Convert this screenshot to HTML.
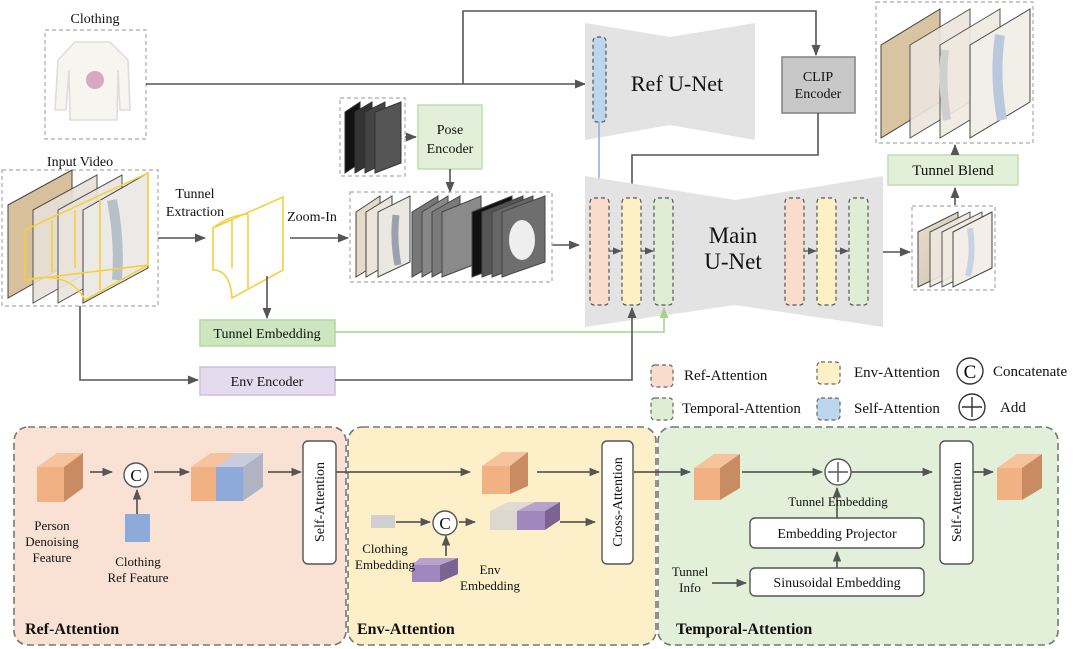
<!DOCTYPE html>
<html><head><meta charset="utf-8"><style>
html,body{margin:0;padding:0;background:#fff;width:1080px;height:649px;overflow:hidden}
svg{display:block;font-family:"Liberation Serif",serif}
</style></head><body>
<svg width="1080" height="649" viewBox="0 0 1080 649" xmlns="http://www.w3.org/2000/svg">
<defs>
<marker id="a" viewBox="0 0 10 10" refX="9" refY="5" markerWidth="7" markerHeight="7" orient="auto"><path d="M0,1 L10,5 L0,9 z" fill="#555"/></marker>
<marker id="ab" viewBox="0 0 10 10" refX="9" refY="5" markerWidth="7" markerHeight="7" orient="auto"><path d="M0,1 L10,5 L0,9 z" fill="#8fb0e0"/></marker>
<marker id="ag" viewBox="0 0 10 10" refX="9" refY="5" markerWidth="7" markerHeight="7" orient="auto"><path d="M0,1 L10,5 L0,9 z" fill="#a6d38a"/></marker>
<linearGradient id="ph" x1="0" y1="0" x2="1" y2="1"><stop offset="0" stop-color="#e8dccb"/><stop offset="1" stop-color="#cfc3b3"/></linearGradient>
</defs>
<g stroke="#555" stroke-width="1.6" fill="none">
<rect x="45" y="30" width="101" height="109" stroke="#aaa" stroke-dasharray="4,3" stroke-width="1.2"/>
<path d="M75,42 L110,42 L128,60 L130,110 L120,110 L118,70 L117,120 L70,120 L69,70 L66,110 L55,110 L58,60 Z" fill="#f7f5f0" stroke="#ddd"/>
<circle cx="95" cy="80" r="9" fill="#d9a7c0" stroke="none"/>
<polyline points="146,84 585,84" marker-end="url(#a)"/>
<polyline points="463,84 463,11 816,11 816,55" marker-end="url(#a)"/>
<path d="M585,23 L670,37 L755,23 L755,140 L670,125 L585,140 Z" fill="#e3e3e3" stroke="none"/>
<rect x="593" y="37" width="13" height="85" rx="4" fill="#bcd6ee" stroke-dasharray="4,3" stroke-width="1.2"/>
<line x1="599" y1="122" x2="599" y2="196" stroke="#8fb0e0" marker-end="url(#ab)"/>
<rect x="782" y="57" width="73" height="56" fill="#c8c8c8" stroke="#888"/>
<polyline points="818,113 818,155 632,155 632,196" marker-end="url(#a)"/>
<path d="M585,176 L735,200 L883,176 L883,327 L735,305 L585,327 Z" fill="#e3e3e3" stroke="none"/>
<g stroke-dasharray="4,3" stroke-width="1.2">
<rect x="590" y="198" width="19" height="107" rx="4" fill="#f9dccb"/>
<rect x="622" y="198" width="19" height="107" rx="4" fill="#fdf0c4"/>
<rect x="654" y="198" width="19" height="107" rx="4" fill="#deedd3"/>
<rect x="785" y="198" width="19" height="107" rx="4" fill="#f9dccb"/>
<rect x="817" y="198" width="19" height="107" rx="4" fill="#fdf0c4"/>
<rect x="849" y="198" width="19" height="107" rx="4" fill="#deedd3"/>
</g>
<line x1="609" y1="251" x2="621" y2="251" marker-end="url(#a)" stroke-width="1.3"/>
<line x1="641" y1="251" x2="653" y2="251" marker-end="url(#a)" stroke-width="1.3"/>
<line x1="804" y1="251" x2="816" y2="251" marker-end="url(#a)" stroke-width="1.3"/>
<line x1="836" y1="251" x2="848" y2="251" marker-end="url(#a)" stroke-width="1.3"/>
<line x1="552" y1="245" x2="579" y2="245" marker-end="url(#a)"/>
<line x1="883" y1="252" x2="910" y2="252" marker-end="url(#a)"/>
<rect x="912" y="206" width="83" height="84" stroke="#aaa" stroke-dasharray="4,3" stroke-width="1.2"/>
<g stroke="#444" stroke-width="1">
<path d="M918,232 L958,212 L958,268 L918,287Z" fill="url(#ph)"/>
<path d="M930,232 L970,212 L970,268 L930,287Z" fill="#eee8df" opacity=".9"/>
<path d="M942,232 L982,212 L982,268 L942,287Z" fill="#f0ebe3" opacity=".9"/>
<path d="M953,232 L992,212 L992,268 L953,287Z" fill="#f3efe8"/>
</g>
<path d="M970,228 q4,25 -2,48" stroke="#c8d3e0" stroke-width="6"/>
<line x1="955" y1="205" x2="955" y2="188" marker-end="url(#a)"/>
<rect x="888" y="155" width="130" height="30" fill="#e2f0d9" stroke="#c3e0b0"/>
<line x1="955" y1="155" x2="955" y2="145" marker-end="url(#a)"/>
<rect x="876" y="2" width="157" height="141" stroke="#aaa" stroke-dasharray="4,3" stroke-width="1.2"/>
<g stroke="#444" stroke-width="1">
<path d="M881,45 L940,9 L940,102 L881,138Z" fill="#d9c4a2"/>
<path d="M910,45 L970,9 L970,102 L910,138Z" fill="#ece6dc" opacity=".9"/>
<path d="M940,45 L1000,9 L1000,102 L940,138Z" fill="#efe9e0" opacity=".9"/>
<path d="M970,45 L1030,9 L1030,102 L970,138Z" fill="#f2eee8"/>
</g>
<path d="M1000,35 q-6,40 2,85" stroke="#b9c8dc" stroke-width="10"/>
<path d="M945,50 q-4,30 2,70" stroke="#cfcfcf" stroke-width="8"/>
<rect x="2" y="170" width="156" height="136" stroke="#aaa" stroke-dasharray="4,3" stroke-width="1.2"/>
<g stroke="#444" stroke-width="1">
<path d="M8,205 L72,170 L72,262 L8,298Z" fill="#d8c09c"/>
<path d="M33,210 L97,175 L97,267 L33,303Z" fill="#e7e1d8" opacity=".9"/>
<path d="M58,210 L122,175 L122,267 L58,303Z" fill="#e9e4dc" opacity=".9"/>
<path d="M83,210 L148,173 L148,268 L83,303Z" fill="#eceae6"/>
</g>
<path d="M112,200 q8,40 5,80" stroke="#b7bfc9" stroke-width="10"/>
<g stroke="#f4d03f" stroke-width="1.6">
<path d="M25,230 L148,173 L148,265 L25,280Z M52,220 L52,272 M75,210 L75,268 M100,200 L100,290 M25,280 Q70,270 85,300 L148,265"/>
</g>
<line x1="158" y1="238" x2="205" y2="238" marker-end="url(#a)"/>
<g stroke="#f4d03f" stroke-width="1.6">
<path d="M213,228 L283,197 L283,270 L232,298 Q230,270 213,270Z M232,220 L232,268 M248,214 L248,290 M213,228 Q230,215 248,214"/>
</g>
<line x1="290" y1="238" x2="348" y2="238" marker-end="url(#a)"/>
<line x1="267" y1="276" x2="267" y2="318" marker-end="url(#a)"/>
<rect x="200" y="320" width="135" height="26" fill="#cde6bf" stroke="#b6d9a2"/>
<polyline points="335,332 664,332 664,308" stroke="#a6d38a" marker-end="url(#ag)"/>
<polyline points="80,306 80,380 198,380" marker-end="url(#a)"/>
<rect x="200" y="367" width="135" height="28" fill="#e4dcee" stroke="#cfc3e0"/>
<polyline points="335,380 632,380 632,308" marker-end="url(#a)"/>
<rect x="340" y="98" width="65" height="78" stroke="#aaa" stroke-dasharray="4,3" stroke-width="1.2"/>
<g stroke="#333" stroke-width="1">
<path d="M345,112 L360,102 L360,163 L345,173Z" fill="#111"/>
<path d="M355,112 L372,102 L372,163 L355,173Z" fill="#333"/>
<path d="M365,112 L385,102 L385,163 L365,173Z" fill="#444"/>
<path d="M375,112 L401,102 L401,163 L375,173Z" fill="#555"/>
</g>
<line x1="405" y1="137" x2="416" y2="137" marker-end="url(#a)"/>
<rect x="418" y="105" width="64" height="64" fill="#e2f0d9" stroke="#c3e0b0"/>
<line x1="450" y1="169" x2="450" y2="192" marker-end="url(#a)"/>
<rect x="350" y="192" width="202" height="90" stroke="#aaa" stroke-dasharray="4,3" stroke-width="1.2"/>
<g stroke="#444" stroke-width="1">
<path d="M356,212 L380,196 L380,262 L356,277Z" fill="#e5dac8"/>
<path d="M366,212 L392,196 L392,262 L366,277Z" fill="#ebe5dc"/>
<path d="M378,212 L410,196 L410,262 L378,277Z" fill="#ebe7e1"/>
<path d="M412,212 L438,196 L438,262 L412,277Z" fill="#777"/>
<path d="M422,212 L448,196 L448,262 L422,277Z" fill="#888"/>
<path d="M432,212 L460,196 L460,262 L432,277Z" fill="#7a7a7a"/>
<path d="M442,212 L481,196 L481,262 L442,277Z" fill="#8a8a8a"/>
<path d="M472,212 L512,196 L512,262 L472,277Z" fill="#111"/>
<path d="M482,212 L523,196 L523,262 L482,277Z" fill="#555"/>
<path d="M492,212 L533,196 L533,262 L492,277Z" fill="#666"/>
<path d="M502,212 L545,196 L545,262 L502,277Z" fill="#6e6e6e"/>
</g>
<path d="M396,215 q-3,25 2,50" stroke="#9aa3ad" stroke-width="7"/>
<ellipse cx="522" cy="240" rx="13" ry="20" fill="#eee" stroke="none"/>
</g>
<g font-size="14" fill="#111">
<text x="95" y="23" text-anchor="middle">Clothing</text>
<text x="80" y="166" text-anchor="middle">Input Video</text>
<text x="195" y="198" text-anchor="middle">Tunnel</text>
<text x="195" y="216" text-anchor="middle">Extraction</text>
<text x="312" y="221" text-anchor="middle">Zoom-In</text>
<text x="450" y="134" text-anchor="middle">Pose</text>
<text x="450" y="153" text-anchor="middle">Encoder</text>
<text x="267" y="338" text-anchor="middle">Tunnel Embedding</text>
<text x="267" y="386" text-anchor="middle">Env Encoder</text>
<text x="677" y="91" text-anchor="middle" font-size="22">Ref U-Net</text>
<text x="818" y="81" text-anchor="middle" font-size="14">CLIP</text>
<text x="818" y="98" text-anchor="middle" font-size="14">Encoder</text>
<text x="733" y="243" text-anchor="middle" font-size="23">Main</text>
<text x="733" y="269" text-anchor="middle" font-size="23">U-Net</text>
<text x="953" y="175" text-anchor="middle" font-size="15">Tunnel Blend</text>
<g font-size="15">
<text x="684" y="380">Ref-Attention</text>
<text x="854" y="377">Env-Attention</text>
<text x="993" y="376">Concatenate</text>
<text x="682" y="413">Temporal-Attention</text>
<text x="854" y="413">Self-Attention</text>
<text x="1000" y="412">Add</text>
</g>
</g>
<g stroke="#666" stroke-width="1.2" stroke-dasharray="4,3">
<rect x="651" y="365" width="22" height="22" rx="4" fill="#f9dccb"/>
<rect x="817" y="362" width="23" height="22" rx="4" fill="#fdf0c4"/>
<rect x="651" y="398" width="22" height="22" rx="4" fill="#deedd3"/>
<rect x="817" y="398" width="23" height="22" rx="4" fill="#bcd6ee"/>
</g>
<circle cx="970" cy="371" r="13" fill="none" stroke="#333" stroke-width="1.4"/>
<text x="970" y="378" text-anchor="middle" font-size="19">C</text>
<circle cx="972" cy="407" r="13" fill="none" stroke="#333" stroke-width="1.4"/>
<path d="M962,407 H982 M972,397 V417" stroke="#333" stroke-width="1.4"/>
<g stroke="#777" stroke-width="1.6" stroke-dasharray="7,4">
<rect x="14" y="427" width="332" height="218" rx="14" fill="#f9e1d3"/>
<rect x="348" y="427" width="308" height="218" rx="14" fill="#fdf0c8"/>
<rect x="658" y="427" width="400" height="218" rx="14" fill="#e2efd9"/>
</g>
<g stroke="none">
<path d="M37,467 L57,453 L83,453 L64,467Z" fill="#f5c39c"/>
<path d="M64,467 L83,453 L83,488 L64,502Z" fill="#c98b62"/>
<rect x="37" y="467" width="27" height="35" fill="#f2b183"/>
<rect x="125" y="514" width="25" height="28" fill="#8eaadb"/>
<path d="M191,467 L211,453 L263,453 L243,467Z" fill="#f5c39c"/>
<path d="M216,467 L236,453 L263,453 L243,467Z" fill="#c8ccdc"/>
<path d="M243,467 L263,453 L263,487 L243,501Z" fill="#b0b3c3"/>
<rect x="191" y="467" width="25" height="34" fill="#f2b183"/>
<rect x="216" y="467" width="27" height="34" fill="#8eaadb"/>
<path d="M482,466 L502,452 L528,452 L510,466Z" fill="#f5c39c"/>
<path d="M510,466 L528,452 L528,486 L510,494Z" fill="#c98b62"/>
<rect x="482" y="466" width="28" height="28" fill="#f2b183"/>
<rect x="371" y="515" width="24" height="13" fill="#d0d0d0"/>
<path d="M412,565 L420,558 L458,558 L440,565Z" fill="#b8a2cc"/>
<path d="M440,565 L458,558 L458,574 L440,582Z" fill="#7b6590"/>
<rect x="412" y="565" width="28" height="17" fill="#a088bf"/>
<path d="M490,511 L508,502 L560,502 L545,511Z" fill="#e0dbd0"/>
<path d="M517,511 L535,502 L560,502 L545,511Z" fill="#b8a2cc"/>
<path d="M545,511 L560,502 L560,520 L545,530Z" fill="#7b6590"/>
<rect x="490" y="511" width="27" height="19" fill="#dcd8d0"/>
<rect x="517" y="511" width="28" height="19" fill="#a088bf"/>
<path d="M694,468 L714,454 L740,454 L720,468Z" fill="#f5c39c"/>
<path d="M720,468 L740,454 L740,488 L720,500Z" fill="#c98b62"/>
<rect x="694" y="468" width="26" height="32" fill="#f2b183"/>
<path d="M997,468 L1017,454 L1042,454 L1022,468Z" fill="#f5c39c"/>
<path d="M1022,468 L1042,454 L1042,488 L1022,500Z" fill="#c98b62"/>
<rect x="997" y="468" width="25" height="32" fill="#f2b183"/>
</g>
<g stroke="#444" stroke-width="1.5" fill="none">
<line x1="90" y1="472" x2="112" y2="472" marker-end="url(#a)"/>
<line x1="137" y1="514" x2="137" y2="490" marker-end="url(#a)"/>
<line x1="154" y1="472" x2="189" y2="472" marker-end="url(#a)"/>
<line x1="268" y1="472" x2="301" y2="472" marker-end="url(#a)"/>
<line x1="336" y1="472" x2="470" y2="472" marker-end="url(#a)"/>
<line x1="537" y1="472" x2="599" y2="472" marker-end="url(#a)"/>
<line x1="396" y1="522" x2="430" y2="522" marker-end="url(#a)"/>
<line x1="446" y1="556" x2="446" y2="536" marker-end="url(#a)"/>
<line x1="459" y1="522" x2="475" y2="522" marker-end="url(#a)"/>
<line x1="560" y1="522" x2="595" y2="522" marker-end="url(#a)"/>
<line x1="634" y1="472" x2="690" y2="472" marker-end="url(#a)"/>
<line x1="742" y1="472" x2="822" y2="472" marker-end="url(#a)"/>
<line x1="851" y1="472" x2="932" y2="472" marker-end="url(#a)"/>
<line x1="973" y1="472" x2="993" y2="472" marker-end="url(#a)"/>
<line x1="837" y1="518" x2="837" y2="488" marker-end="url(#a)"/>
<line x1="837" y1="568" x2="837" y2="552" marker-end="url(#a)"/>
<line x1="712" y1="583" x2="746" y2="583" marker-end="url(#a)"/>
</g>
<g fill="#fff" stroke="#555" stroke-width="1.4">
<circle cx="136" cy="475" r="12"/>
<circle cx="445" cy="523" r="12"/>
<circle cx="838" cy="472" r="13"/>
<rect x="303" y="441" width="33" height="123" rx="5"/>
<rect x="602" y="441" width="31" height="123" rx="5"/>
<rect x="940" y="441" width="33" height="123" rx="5"/>
<rect x="750" y="518" width="174" height="30" rx="5"/>
<rect x="750" y="568" width="174" height="28" rx="5"/>
</g>
<path d="M828,472 H848 M838,462 V482" stroke="#555" stroke-width="1.4"/>
<g font-size="13" fill="#111" text-anchor="middle">
<text x="136" y="481" font-size="17">C</text>
<text x="445" y="529" font-size="17">C</text>
<text x="52" y="530">Person</text>
<text x="52" y="546">Denoising</text>
<text x="52" y="562">Feature</text>
<text x="138" y="566">Clothing</text>
<text x="138" y="582">Ref Feature</text>
<text x="385" y="553">Clothing</text>
<text x="385" y="569">Embedding</text>
<text x="490" y="574">Env</text>
<text x="490" y="590">Embedding</text>
<text x="838" y="506">Tunnel Embedding</text>
<text x="837" y="538" font-size="14">Embedding Projector</text>
<text x="837" y="587" font-size="14">Sinusoidal Embedding</text>
<text x="690" y="576">Tunnel</text>
<text x="690" y="592">Info</text>
<text transform="translate(324,502) rotate(-90)" font-size="14">Self-Attention</text>
<text transform="translate(622,502) rotate(-90)" font-size="14">Cross-Attention</text>
<text transform="translate(961,502) rotate(-90)" font-size="14">Self-Attention</text>
</g>
<g font-size="16" font-weight="bold" fill="#111">
<text x="25" y="634">Ref-Attention</text>
<text x="357" y="634">Env-Attention</text>
<text x="676" y="634">Temporal-Attention</text>
</g>
</svg>
</body></html>
